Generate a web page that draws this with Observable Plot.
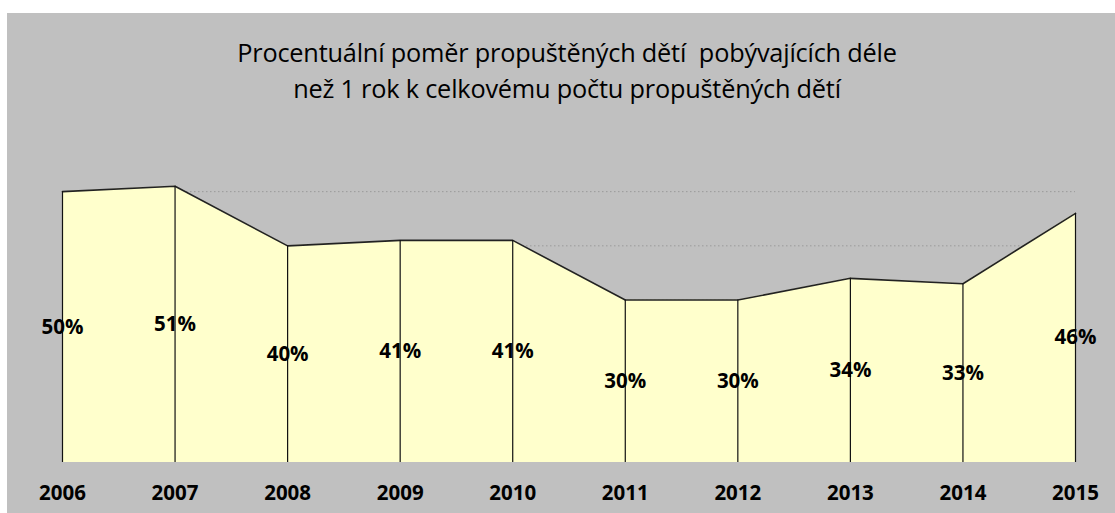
<!DOCTYPE html>
<html>
<head>
<meta charset="utf-8">
<script src="https://cdn.jsdelivr.net/npm/d3@7"></script>
<script src="https://cdn.jsdelivr.net/npm/@observablehq/plot@0.6"></script>
<style>
  html, body { margin: 0; padding: 0; background: #ffffff; }
  #chart { position: absolute; left: 7px; top: 13px; width: 1108px; height: 500px; background: #c0c0c0; overflow: hidden; }
  #title { height: 110px; box-sizing: border-box; padding-top: 21px; padding-left: 12px; text-align: center;
           font-family: "Open Sans", sans-serif; font-size: 25.3px; line-height: 36px; color: #000; letter-spacing: -0.2px; }
  svg { display: block; }
</style>
</head>
<body>
<div id="chart"><div id="title">Procentuální poměr propuštěných dětí&nbsp; pobývajících déle<br>než 1 rok k celkovému počtu propuštěných dětí</div></div>
<script>
const years = [2006, 2007, 2008, 2009, 2010, 2011, 2012, 2013, 2014, 2015];
const values = [50, 51, 40, 41, 41, 30, 30, 34, 33, 46];
const gridValues = [10, 20, 30, 40, 50];

const data = years.map((year, i) => ({year, value: values[i]}));

const chart = Plot.plot({
  width: 1108,
  height: 390,
  marginLeft: 55,
  marginRight: 40,
  marginTop: 14,
  marginBottom: 51,
  style: {background: "transparent", fontFamily: "'Open Sans', sans-serif"},
  x: {domain: [2006, 2015], label: null},
  y: {domain: [0, 60], axis: null, label: null},
  marks: [
    Plot.ruleY(gridValues, {y: d => d, x1: 2006, x2: 2015, stroke: "#9a9a9a", strokeWidth: 1, strokeDasharray: "1.5,2.5"}),
    Plot.areaY(data, {x: "year", y: "value", fill: "#ffffcc"}),
    Plot.lineY(data, {x: "year", y: "value", stroke: "#222", strokeWidth: 1.6}),
    Plot.ruleX(data, {x: "year", y1: 0, y2: "value", stroke: "#111", strokeWidth: 1.2}),
    Plot.text(data, {x: "year", y: d => d.value / 2, text: d => d.value + "%", fontSize: 20.5, fontWeight: "bold", fill: "#000"}),
    Plot.axisX(years, {tickSize: 0, tickPadding: 23, tickFormat: d => String(d), fontSize: 20.5, fontWeight: "bold", fill: "#000", label: null})
  ]
});
document.getElementById("chart").appendChild(chart);
</script>
</body>
</html>
